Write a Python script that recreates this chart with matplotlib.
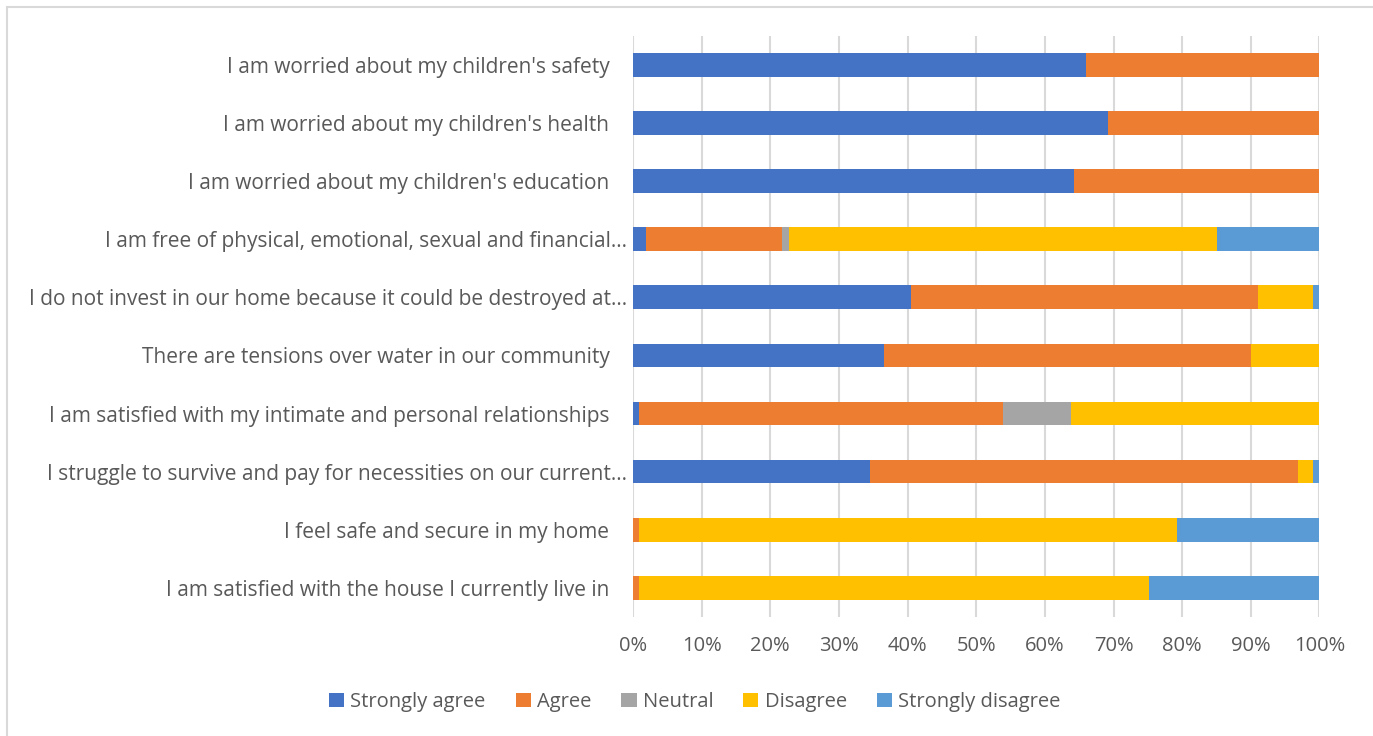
import matplotlib.pyplot as plt
import matplotlib.transforms as mtransforms
import numpy as np
from matplotlib.patches import Rectangle
from matplotlib.ticker import PercentFormatter

plt.rcParams['font.family'] = ['Open Sans', 'DejaVu Sans']

statements = [
    "I am worried about my children's safety",
    "I am worried about my children's health",
    "I am worried about my children's education",
    "I am free of physical, emotional, sexual and financial\u2026",
    "I do not invest in our home because it could be destroyed at\u2026",
    "There are tensions over water in our community",
    "I am satisfied with my intimate and personal relationships",
    "I struggle to survive and pay for necessities on our current\u2026",
    "I feel safe and secure in my home",
    "I am satisfied with the house I currently live in",
]

strongly_agree = [66, 69.2, 64.3, 1.9, 40.5, 36.6, 0.9, 34.5, 0, 0]
agree = [34, 30.8, 35.7, 19.8, 50.5, 53.5, 53.0, 62.4, 0.9, 0.9]
neutral = [0, 0, 0, 1.0, 0, 0, 9.9, 0, 0, 0]
disagree = [0, 0, 0, 62.4, 8.0, 9.9, 36.2, 2.1, 78.3, 74.3]
strongly_disagree = [0, 0, 0, 14.9, 1.0, 0, 0, 1.0, 20.8, 24.8]

series = [
    ('Strongly agree', strongly_agree, '#4472c4'),
    ('Agree', agree, '#ed7d31'),
    ('Neutral', neutral, '#a5a5a5'),
    ('Disagree', disagree, '#ffc000'),
    ('Strongly disagree', strongly_disagree, '#5b9bd5'),
]

fig = plt.figure(figsize=(13.73, 7.36), dpi=100)
ax = fig.add_axes([0.461, 0.162, 0.5, 0.789])

# outer chart frame
fig.patches.append(Rectangle((7 / 1373, -0.05), 1.1, 1 - 7 / 736 + 0.05,
                             transform=fig.transFigure, fill=False,
                             edgecolor='#d9d9d9', linewidth=1.5))

y = np.arange(len(statements))
left = np.zeros(len(statements))
for name, vals, color in series:
    vals = np.array(vals)
    ax.barh(y, vals, left=left, height=0.41, color=color, label=name, zorder=3)
    left += vals

ax.set_xlim(0, 100)
ax.set_ylim(len(statements) - 0.5, -0.5)
ax.set_xticks(np.arange(0, 101, 10))
ax.xaxis.set_major_formatter(PercentFormatter(decimals=0))
ax.set_yticks(y)
ax.set_yticklabels(statements)
ax.grid(axis='x', color='#d9d9d9', linewidth=1.5, zorder=0)
for s in ax.spines.values():
    s.set_visible(False)
ax.tick_params(axis='y', length=0, labelsize=15, colors='#595959', pad=4)
ax.tick_params(axis='x', length=0, labelsize=14.5, colors='#595959', pad=14)

# full-length labels sit a little further from the axis than clipped ones
shift = mtransforms.ScaledTranslation(-18 / 100, 0, fig.dpi_scale_trans)
for lbl in ax.get_yticklabels():
    if not lbl.get_text().endswith('\u2026'):
        lbl.set_transform(lbl.get_transform() + shift)

fig.legend(loc='center', bbox_to_anchor=(0.506, 1 - 702 / 736), ncol=5,
           frameon=False, fontsize=14.5, handlelength=0.75, handleheight=0.75,
           handletextpad=0.3, columnspacing=1.5, labelcolor='#595959')

fig.savefig('out.png', dpi=100)
